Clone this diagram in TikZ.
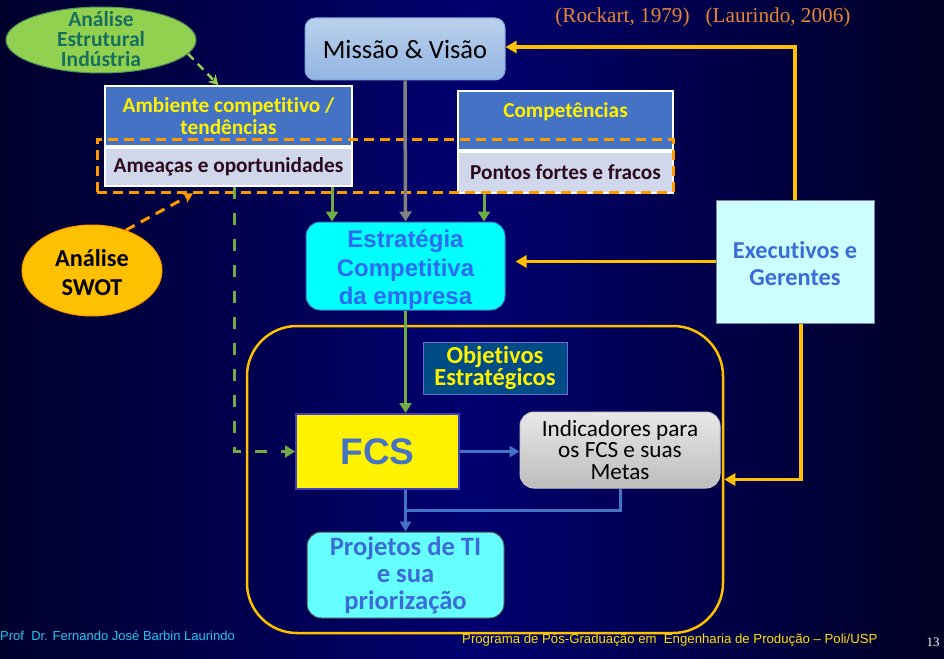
\documentclass[tikz,border=0pt]{standalone}
\usepackage{fontspec}
\setmainfont{Carlito}[Ligatures=NoCommon]
\newfontfamily\arialf{Liberation Sans}
\newfontfamily\timesf{Liberation Serif}
\usetikzlibrary{shapes.geometric,arrows.meta,calc}
\definecolor{bgdark}{HTML}{00002C}
\definecolor{bgmid}{HTML}{000070}
\definecolor{gold}{HTML}{FFC000}
\definecolor{orangeD}{HTML}{FF9900}
\definecolor{greenA}{HTML}{6FAC46}
\definecolor{greenL}{HTML}{92D050}
\definecolor{tealT}{HTML}{17705E}
\definecolor{boxblue}{HTML}{4472C4}
\definecolor{lav}{HTML}{D0D7EA}
\definecolor{maroonT}{HTML}{2A0A1C}
\definecolor{txtblue}{HTML}{3B6BD6}
\definecolor{estrblue}{HTML}{2E6BF2}
\definecolor{cyanA}{HTML}{00FFFF}
\definecolor{cyanL}{HTML}{66FFFF}
\definecolor{execfill}{HTML}{CCFFFF}
\definecolor{objfill}{HTML}{004C86}
\definecolor{refor}{HTML}{E8853A}
\definecolor{footcyan}{HTML}{19C8F0}
\definecolor{footyel}{HTML}{FFE000}
\definecolor{grayA}{HTML}{808080}
\definecolor{fcsborder}{HTML}{3F3FBF}
\definecolor{mvtop}{HTML}{BAD1EC}
\definecolor{mvbot}{HTML}{92B5E2}
\definecolor{mvline}{HTML}{7FA3D6}
\definecolor{indtop}{HTML}{E8E8E8}
\definecolor{indbot}{HTML}{BDBDBD}
\definecolor{execline}{HTML}{7F7FB0}
\definecolor{objline}{HTML}{6A6AD0}
\begin{document}
\begin{tikzpicture}[x=1pt,y=-1pt,
  plain/.style={inner sep=0pt, align=center},
  topbox/.style={plain, draw=white, line width=1.5pt, fill=boxblue, text=yellow, font=\bfseries\fontsize{21.3}{22}\selectfont},
  lowbox/.style={plain, draw=white, line width=1.5pt, fill=lav, text=maroonT, font=\bfseries\fontsize{21.3}{22}\selectfont},
  goldarrow/.style={draw=gold, line width=3.5pt, -{Triangle[length=11pt,width=12pt]}},
  greenarrow/.style={draw=greenA, line width=3pt, -{Triangle[length=10pt,width=12pt]}},
  bluearrow/.style={draw=boxblue, line width=3pt, -{Triangle[length=10pt,width=11pt]}},
  blueline/.style={draw=boxblue, line width=3pt},
]
% background
\shade[left color=bgdark, right color=bgdark!80!black, middle color=bgmid] (0,0) rectangle (944,658);
\useasboundingbox (0,0) rectangle (944,658);

% header references
\node[plain, text=refor, font=\timesf\fontsize{21.2}{24}\selectfont] (rock) at (622.5,17) {(Rockart, 1979)};
\node[plain, text=refor, font=\timesf\fontsize{21.2}{24}\selectfont] (laur) at (778,17) {(Laurindo, 2006)};

% big rounded area
\node[plain, draw=gold, line width=2.5pt, rounded corners=50pt, minimum width=476pt, minimum height=307pt] (big) at (485,479.5) {};

% Missao
\node[plain, draw=mvline, line width=1pt, rounded corners=10pt, top color=mvtop, bottom color=mvbot, minimum width=200pt, minimum height=62pt, font=\fontsize{26.5}{28}\selectfont] (missao) at (405,49) {Missão \& Visão};

% Ambiente
\node[topbox, minimum width=247pt, minimum height=60pt] (amb) at (228.5,116) {Ambiente competitivo /\\tendências};
\node[lowbox, minimum width=247pt, minimum height=38pt] (ame) at (228.5,167) {Ameaças e oportunidades};

% Competencias
\node[topbox, minimum width=215pt, minimum height=59pt, text height=10pt, text depth=16pt] (comp) at (565.5,120.5) {Competências};
\node[lowbox, minimum width=215pt, minimum height=41pt] (pont) at (565.5,172.5) {Pontos fortes e fracos};

% orange dashed area
\node[plain, draw=orangeD, line width=3pt, dash pattern=on 10pt off 6pt, minimum width=576pt, minimum height=53pt] (swotarea) at (385,165.5) {};

% green ellipse
\node[ellipse, plain, draw=tealT!60!greenL, line width=1pt, fill=greenL, minimum width=190pt, minimum height=66pt,
  label={[plain, text=tealT, font=\bfseries\fontsize{21.6}{20.4}\selectfont, yshift=1pt]center:{Análise\\Estrutural\\Indústria}}] (ana) at (101,40) {};

% SWOT ellipse
\node[ellipse, plain, draw=orangeD, line width=1pt, fill=gold, minimum width=140pt, minimum height=91pt,
  label={[plain, text=black, font=\bfseries\fontsize{24.3}{29}\selectfont, yshift=-2pt]center:{Análise\\SWOT}}] (swot) at (92,270.5) {};

% Estrategia
\node[plain, draw=boxblue, line width=1pt, rounded corners=14pt, fill=cyanA, minimum width=199pt, minimum height=88pt,
  label={[plain, text=estrblue, font=\arialf\bfseries\fontsize{24}{28.5}\selectfont, yshift=-4pt]center:{Estratégia\\Competitiva\\da empresa}}] (estr) at (405.5,266) {};

% Executivos
\node[plain, draw=execline, line width=1pt, fill=execfill, minimum width=158pt, minimum height=123pt,
  label={[plain, text=txtblue, font=\bfseries\fontsize{24.3}{27}\selectfont, yshift=-2.5pt]center:{Executivos e\\Gerentes}}] (exec) at (795,261.5) {};

% Objetivos
\node[plain, draw=objline, line width=1pt, fill=objfill, text=yellow, minimum width=144pt, minimum height=52pt, font=\bfseries\fontsize{24.5}{20.5}\selectfont] (obj) at (495,368) {Objetivos\\Estratégicos};

% FCS
\node[plain, draw=fcsborder, line width=2pt, fill=yellow, text=boxblue, minimum width=163pt, minimum height=75pt, font=\arialf\bfseries\fontsize{37}{40}\selectfont] (fcs) at (377.5,451.5) {FCS};

% Indicadores
\node[plain, draw=indbot!80!white, line width=1pt, rounded corners=14pt, top color=indtop, bottom color=indbot, text=black, minimum width=200pt, minimum height=76pt, font=\fontsize{23.2}{21.2}\selectfont] (ind) at (620,450) {Indicadores para\\os FCS e suas\\Metas};

% Projetos
\node[plain, draw=black!70, line width=1pt, rounded corners=14pt, fill=cyanL, text=txtblue, minimum width=197pt, minimum height=86pt, font=\bfseries\fontsize{26.6}{27}\selectfont] (proj) at (405.5,575) {Projetos de TI\\e sua\\priorização};

% footer
\node[plain, anchor=west, text=footcyan, font=\arialf\fontsize{13}{15}\selectfont] (prof) at (0,636) {Prof\ \ Dr. Fernando José Barbin Laurindo};
\node[plain, anchor=west, text=footyel, font=\arialf\fontsize{13.2}{15}\selectfont] (prog) at (462,640) {Programa de Pós-Graduação em\ \ Engenharia de Produção – Poli/USP};
\node[plain, text=white, font=\timesf\fontsize{13}{15}\selectfont] (pg) at (933,642) {13};

% connectors
\coordinate (anaend) at ([xshift=-10pt]amb.north);
\draw[draw=greenL, line width=2.5pt, dash pattern=on 8pt off 6pt, -{Stealth[length=10pt,width=11pt]}] (ana.-9) -- (anaend);

\coordinate (swotend) at ([xshift=-192pt]swotarea.south);
\draw[draw=orangeD, line width=3pt, dash pattern=on 10pt off 7pt, -{Stealth[length=10pt,width=11pt]}] (swot.50) -- (swotend);

\draw[draw=grayA, line width=3.5pt, -{Triangle[length=10pt,width=12pt]}] (missao.south) -- (estr.north);

\coordinate (g1) at ([xshift=103.5pt]ame.south);
\draw[greenarrow] (g1) -- (g1 |- estr.north);
\coordinate (g2) at ([xshift=-81.5pt]pont.south);
\draw[greenarrow] (g2) -- (g2 |- estr.north);

\coordinate (gd) at ([xshift=5.5pt]ame.south);
\draw[draw=greenA, line width=3pt, dash pattern=on 12pt off 14pt, -{Triangle[length=10pt,width=12pt]}] (gd) |- (fcs.west);

\coordinate (e1) at (estr.south);
\draw[greenarrow] (e1) -- (e1 |- fcs.north);

\coordinate (mvin) at ([yshift=2pt]missao.east);
\draw[goldarrow] (exec.north) |- (mvin);
\draw[goldarrow, shorten >=10pt] (exec.west) -- (exec.west -| estr.east);
\coordinate (ex) at ([xshift=6pt]exec.south);
\draw[goldarrow] (ex) |- (big.east);

\draw[bluearrow] (fcs.east) -- (fcs.east -| ind.west);
\coordinate (b1) at (fcs.south -| proj.north);
\draw[bluearrow] (b1) -- (proj.north);
\coordinate (bm) at ($(b1)!0.5!(proj.north)$);
\draw[blueline] (ind.south) |- (bm);
\end{tikzpicture}
\end{document}
